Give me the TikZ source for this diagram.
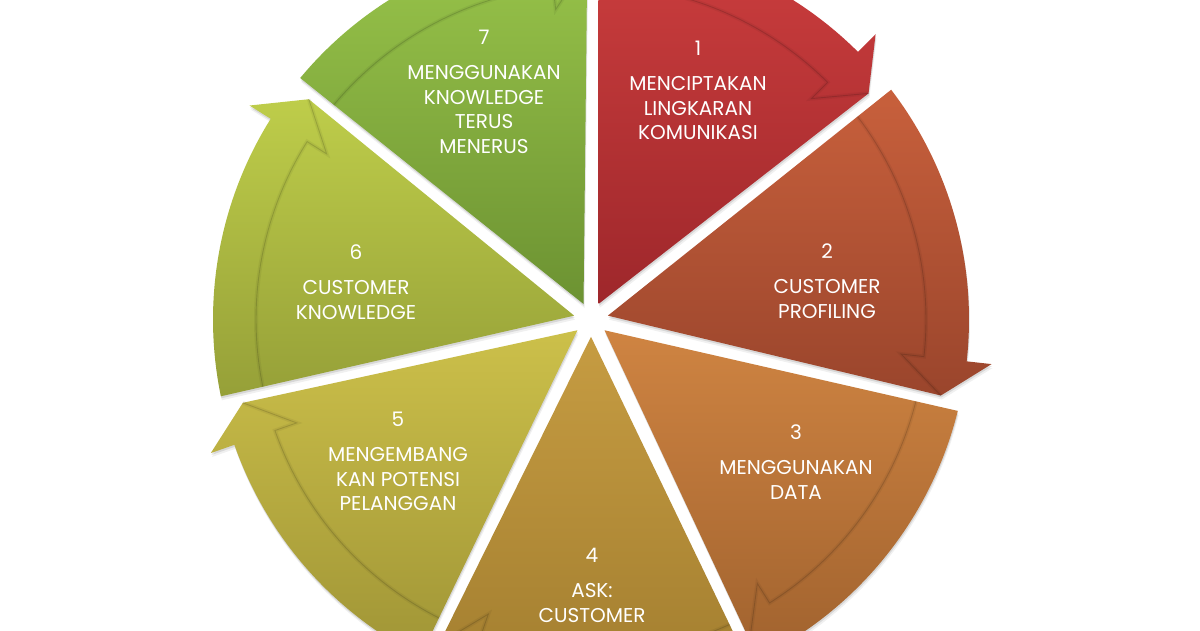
\documentclass[tikz,border=0pt]{standalone}
\usepackage{fontspec}
\setmainfont{Poppins}
\definecolor{s1t}{HTML}{CC3E3E}\definecolor{s1b}{HTML}{9E272B}
\definecolor{s2t}{HTML}{C8603C}\definecolor{s2b}{HTML}{9A452C}
\definecolor{s3t}{HTML}{CF8442}\definecolor{s3b}{HTML}{A0622E}
\definecolor{s4t}{HTML}{C69C42}\definecolor{s4b}{HTML}{A07C2E}
\definecolor{s5t}{HTML}{CCC04A}\definecolor{s5b}{HTML}{A09536}
\definecolor{s6t}{HTML}{BECD4A}\definecolor{s6b}{HTML}{96A038}
\definecolor{s7t}{HTML}{9CC84C}\definecolor{s7b}{HTML}{6C9232}
\tikzset{
  segpath/.style={insert path={(\tm:\dz) -- (\aso:\R) arc[start angle=\aso, end angle=\tn, radius=\R] -- (\tn:403) -- (\atip:358) -- cycle}},
  bandline/.style={insert path={(\asi:335) arc[start angle=\asi, end angle=\tn, radius=335] -- (\tn:312) -- (\atip:358)}},
  lbl/.style={text=white, align=center, inner sep=0pt, anchor=north, font=\fontsize{20}{24.5}\selectfont}
}
\begin{document}
\begin{tikzpicture}[x=1pt,y=1pt]
\useasboundingbox (0,0) rectangle (1200,630);
\clip (0,0) rectangle (1200,630);
\fill[white] (0,0) rectangle (1200,630);
\def\R{378}\def\g{7.5}
\begin{scope}[shift={(591,310.5)}]
% shadows
\foreach \k in {1,...,7}{
  \pgfmathsetmacro\ts{90-(\k-1)*360/7}
  \pgfmathsetmacro\te{90-\k*360/7}
  \pgfmathsetmacro\tm{(\ts+\te)/2}
  \pgfmathsetmacro\tn{\te+6.5}
  \pgfmathsetmacro\aso{\ts-asin(\g/\R)}
  \pgfmathsetmacro\atip{\te+asin(\g/358)-0.6}
  \pgfmathsetmacro\dz{\g/sin(180/7)}
  \fill[black, opacity=.10, shift={(0.5,-2)}, segpath];
  \fill[black, opacity=.06, shift={(1,-4)}, segpath];
}
% segments
\foreach \k/\ct/\cb in {1/s1t/s1b,2/s2t/s2b,3/s3t/s3b,4/s4t/s4b,5/s5t/s5b,6/s6t/s6b,7/s7t/s7b}{
  \pgfmathsetmacro\ts{90-(\k-1)*360/7}
  \pgfmathsetmacro\te{90-\k*360/7}
  \pgfmathsetmacro\tm{(\ts+\te)/2}
  \pgfmathsetmacro\tn{\te+6.5}
  \pgfmathsetmacro\aso{\ts-asin(\g/\R)}
  \pgfmathsetmacro\asi{\ts-asin(\g/335)}
  \pgfmathsetmacro\atip{\te+asin(\g/358)-0.6}
  \pgfmathsetmacro\dz{\g/sin(180/7)}
  \shade[top color=\ct, bottom color=\cb, segpath];
  \draw[black, opacity=.05, line width=4pt, line join=miter, bandline];
  \draw[black, opacity=.14, line width=0.9pt, line join=miter, bandline];
}
\end{scope}
% labels
\node[lbl] (t1) at (698,589) {1\\[10.5pt]MENCIPTAKAN\\LINGKARAN\\KOMUNIKASI};
\node[lbl] (t2) at (827,386) {2\\[10.5pt]CUSTOMER\\PROFILING};
\node[lbl] (t3) at (796,205) {3\\[10.5pt]MENGGUNAKAN\\DATA};
\node[lbl] (t4) at (592,82) {4\\[10.5pt]ASK:\\CUSTOMER};
\node[lbl] (t5) at (398,218) {5\\[10.5pt]MENGEMBANG\\KAN POTENSI\\PELANGGAN};
\node[lbl] (t6) at (356,385) {6\\[10.5pt]CUSTOMER\\KNOWLEDGE};
\node[lbl] (t7) at (484,600) {7\\[10.5pt]MENGGUNAKAN\\KNOWLEDGE\\TERUS\\MENERUS};
\end{tikzpicture}
\end{document}
